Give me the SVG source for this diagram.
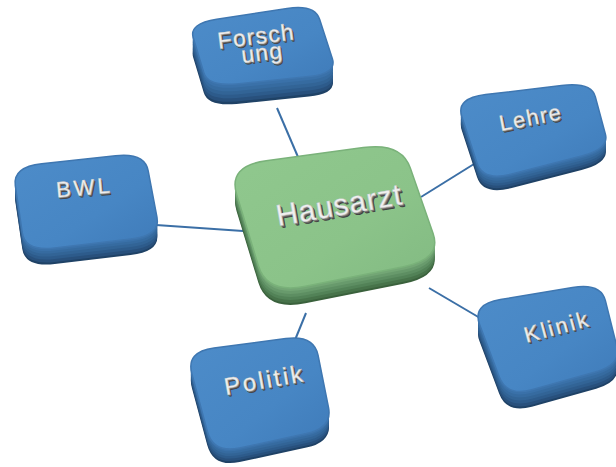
<svg xmlns="http://www.w3.org/2000/svg" xmlns:xlink="http://www.w3.org/1999/xlink" width="616" height="467" viewBox="0 0 616 467">
<style>
.conn{stroke:#3b6fa6;stroke-width:2;fill:none}
.b0{fill:#1f4266}.b1{fill:#28507c}.b2{fill:#2d5b8b}.b3{fill:#326496}.b4{fill:#366ba0}.b5{fill:#3a71a9}
.g0{fill:#3a613c}.g1{fill:#47734a}.g2{fill:#528257}.g3{fill:#5d8e62}.g4{fill:#689a6c}.g5{fill:#73a675}
.tb{fill:url(#gb);stroke:#3f77b1;stroke-width:1.5}
.tg{fill:url(#gg);stroke:#7ab27a;stroke-width:1.5}
.lbl{font-family:"Liberation Sans",Arial,sans-serif;text-anchor:middle}
.s4{fill:#3c3c3c}.s3{fill:#555555}.s2{fill:#707070}.s1{fill:#9a9a9a}
.lt{fill:#f0f0f0;stroke:#c8c8c8;stroke-width:0.4}
</style>
<defs>
<linearGradient id="gb" x1="0" y1="0" x2="1" y2="1">
<stop offset="0" stop-color="#4d8cc9"/><stop offset="0.6" stop-color="#4786c4"/><stop offset="1" stop-color="#3f7bb9"/>
</linearGradient>
<linearGradient id="gg" x1="0" y1="0" x2="1" y2="1">
<stop offset="0" stop-color="#90c88e"/><stop offset="0.6" stop-color="#8bc389"/><stop offset="1" stop-color="#82ba82"/>
</linearGradient>
<path id="pH" d="M266.2,160.8 L363.3,147.6 Q401.4,142.4 410.3,168 L433.1,233.4 Q442,259 403.5,266.7 L305.5,286.3 Q267,294 258.4,265.8 L236.6,194.2 Q228,166 266.2,160.8 Z"/>
<path id="pF" d="M216.7,19.3 L287.1,8.5 Q314.7,4.2 319.7,19.5 L332.3,58.5 Q337.3,73.8 308.9,76.6 L236.5,83.9 Q208,86.7 203.8,72.8 L193.2,37.5 Q189,23.6 216.7,19.3 Z"/>
<path id="pL" d="M485.6,94.6 L561.5,85.5 Q591.3,81.9 595.3,96.6 L605.4,134.2 Q609.4,148.9 581.6,156 L510.8,174.2 Q483,181.3 477,163 L461.8,116.5 Q455.8,98.2 485.6,94.6 Z"/>
<path id="pB" d="M41.7,163.8 L115.6,155.8 Q144.7,152.6 148.2,170.8 L157,217.3 Q160.5,235.5 130.7,239 L54.8,248 Q25,251.5 22.3,232.9 L15.3,185.6 Q12.6,167 41.7,163.8 Z"/>
<path id="pK" d="M500.4,299.5 L572.5,287.4 Q600.9,282.6 605.4,300.6 L616.9,346.6 Q621.4,364.6 596.2,371.7 L531.9,389.7 Q506.7,396.8 499.1,376.4 L479.6,324.6 Q472,304.2 500.4,299.5 Z"/>
<path id="pP" d="M214,347.9 L285.8,338.5 Q314,334.8 318.1,355.3 L328.5,407.4 Q332.6,427.9 306.4,433.6 L239.6,448 Q213.4,453.6 207.3,431.2 L191.9,374 Q185.8,351.6 214,347.9 Z"/>
</defs>
<rect width="616" height="467" fill="#ffffff"/>
<g id="connectors">
<line class="conn" x1="277" y1="108" x2="298" y2="157"/>
<line class="conn" x1="474" y1="164" x2="421" y2="197"/>
<line class="conn" x1="156" y1="225" x2="243" y2="231"/>
<line class="conn" x1="429" y1="288" x2="480" y2="318"/>
<line class="conn" x1="306" y1="313" x2="295" y2="340"/>
</g>
<g id="node-hausarzt">
<use xlink:href="#pH" class="g0" transform="translate(0,17)"/>
<use xlink:href="#pH" class="g1" transform="translate(0,15)"/>
<use xlink:href="#pH" class="g2" transform="translate(0,12)"/>
<use xlink:href="#pH" class="g3" transform="translate(0,9)"/>
<use xlink:href="#pH" class="g4" transform="translate(0,6)"/>
<use xlink:href="#pH" class="g5" transform="translate(0,3)"/>
<use xlink:href="#pH" class="tg"/>
<g class="lbl" font-size="30" letter-spacing="1" transform="translate(341,215) rotate(-10)">
<text class="s4" x="2" y="2.8">Hausarzt</text><text class="s3" x="1.5" y="2.1">Hausarzt</text><text class="s2" x="1" y="1.4">Hausarzt</text><text class="s1" x="0.5" y="0.7">Hausarzt</text><text class="lt">Hausarzt</text>
</g>
</g>
<g id="node-forschung">
<use xlink:href="#pF" class="b0" transform="translate(0,20)"/>
<use xlink:href="#pF" class="b1" transform="translate(0,17.5)"/>
<use xlink:href="#pF" class="b2" transform="translate(0,14)"/>
<use xlink:href="#pF" class="b3" transform="translate(0,10.5)"/>
<use xlink:href="#pF" class="b4" transform="translate(0,7)"/>
<use xlink:href="#pF" class="b5" transform="translate(0,3.5)"/>
<use xlink:href="#pF" class="tb"/>
<g class="lbl" font-size="23" letter-spacing="1.2" transform="translate(257,44) rotate(-7)">
<text class="s4" x="1.6" y="2.2">Forsch</text><text class="s3" x="1.2" y="1.6">Forsch</text><text class="s2" x="0.8" y="1.1">Forsch</text><text class="s1" x="0.4" y="0.5">Forsch</text><text class="lt">Forsch</text>
<text class="s4" x="5.6" y="19.2">ung</text><text class="s3" x="5.2" y="18.6">ung</text><text class="s2" x="4.8" y="18.1">ung</text><text class="s1" x="4.4" y="17.5">ung</text><text class="lt" x="4" y="17">ung</text>
</g>
</g>
<g id="node-lehre">
<use xlink:href="#pL" class="b0" transform="translate(0,14)"/>
<use xlink:href="#pL" class="b1" transform="translate(0,12)"/>
<use xlink:href="#pL" class="b2" transform="translate(0,9.5)"/>
<use xlink:href="#pL" class="b3" transform="translate(0,7)"/>
<use xlink:href="#pL" class="b4" transform="translate(0,4.5)"/>
<use xlink:href="#pL" class="b5" transform="translate(0,2.2)"/>
<use xlink:href="#pL" class="tb"/>
<g class="lbl" font-size="22" letter-spacing="1.5" transform="translate(532,125) rotate(-11)">
<text class="s4" x="1.6" y="2.2">Lehre</text><text class="s3" x="1.2" y="1.6">Lehre</text><text class="s2" x="0.8" y="1.1">Lehre</text><text class="s1" x="0.4" y="0.5">Lehre</text><text class="lt">Lehre</text>
</g>
</g>
<g id="node-bwl">
<use xlink:href="#pB" class="b0" transform="translate(0,16)"/>
<use xlink:href="#pB" class="b1" transform="translate(0,14)"/>
<use xlink:href="#pB" class="b2" transform="translate(0,11)"/>
<use xlink:href="#pB" class="b3" transform="translate(0,8)"/>
<use xlink:href="#pB" class="b4" transform="translate(0,5)"/>
<use xlink:href="#pB" class="b5" transform="translate(0,2.5)"/>
<use xlink:href="#pB" class="tb"/>
<g class="lbl" font-size="22" letter-spacing="3" transform="translate(85,195) rotate(-5)">
<text class="s4" x="1.6" y="2.2">BWL</text><text class="s3" x="1.2" y="1.6">BWL</text><text class="s2" x="0.8" y="1.1">BWL</text><text class="s1" x="0.4" y="0.5">BWL</text><text class="lt">BWL</text>
</g>
</g>
<g id="node-klinik">
<use xlink:href="#pK" class="b0" transform="translate(0,17)"/>
<use xlink:href="#pK" class="b1" transform="translate(0,15)"/>
<use xlink:href="#pK" class="b2" transform="translate(0,12)"/>
<use xlink:href="#pK" class="b3" transform="translate(0,9)"/>
<use xlink:href="#pK" class="b4" transform="translate(0,6)"/>
<use xlink:href="#pK" class="b5" transform="translate(0,3)"/>
<use xlink:href="#pK" class="tb"/>
<g class="lbl" font-size="22" letter-spacing="2.5" transform="translate(559,334) rotate(-15)">
<text class="s4" x="1.6" y="2.2">Klinik</text><text class="s3" x="1.2" y="1.6">Klinik</text><text class="s2" x="0.8" y="1.1">Klinik</text><text class="s1" x="0.4" y="0.5">Klinik</text><text class="lt">Klinik</text>
</g>
</g>
<g id="node-politik">
<use xlink:href="#pP" class="b0" transform="translate(0,14)"/>
<use xlink:href="#pP" class="b1" transform="translate(0,12)"/>
<use xlink:href="#pP" class="b2" transform="translate(0,9.5)"/>
<use xlink:href="#pP" class="b3" transform="translate(0,7)"/>
<use xlink:href="#pP" class="b4" transform="translate(0,4.5)"/>
<use xlink:href="#pP" class="b5" transform="translate(0,2.2)"/>
<use xlink:href="#pP" class="tb"/>
<g class="lbl" font-size="24" letter-spacing="2.5" transform="translate(266,388) rotate(-10)">
<text class="s4" x="1.6" y="2.2">Politik</text><text class="s3" x="1.2" y="1.6">Politik</text><text class="s2" x="0.8" y="1.1">Politik</text><text class="s1" x="0.4" y="0.5">Politik</text><text class="lt">Politik</text>
</g>
</g>
</svg>
